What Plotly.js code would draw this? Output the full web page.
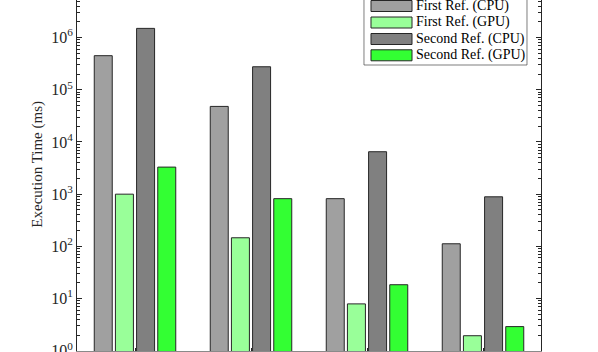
<!DOCTYPE html>
<html>
<head>
<meta charset="utf-8">
<script src="https://cdn.plot.ly/plotly-3.0.1.min.js"></script>
<style>
  body { margin: 0; background: #fff; }
  #plot { width: 598px; height: 352px; }
</style>
</head>
<body>
<div id="plot"></div>
<script>
// data (log scale, ms)
var groups = [1, 2, 3, 4];
var seriesNames = ["First Ref. (CPU)", "First Ref. (GPU)", "Second Ref. (CPU)", "Second Ref. (GPU)"];
var seriesColors = ["#a0a0a0", "#99ff99", "#808080", "#33ff33"];
var firstCpu = [450000, 48000, 820, 112];
var firstGpu = [1000, 146, 7.9, 1.94];
var secondCpu = [1500000, 276000, 6500, 890];
var secondGpu = [3300, 820, 18.4, 2.9];
var yExponents = [0, 1, 2, 3, 4, 5, 6];
var yLabel = 'Execution Time (ms)';

var seriesValues = [firstCpu, firstGpu, secondCpu, secondGpu];

var data = seriesValues.map(function (vals, i) {
  return {
    x: groups,
    y: vals,
    type: 'bar',
    name: seriesNames[i],
    showlegend: false,
    marker: { color: seriesColors[i], line: { color: '#262626', width: 1 } },
    hoverinfo: 'y'
  };
});

// hand-drawn legend (MATLAB style wide patches)
var shapes = [{
  type: 'rect', xref: 'paper', yref: 'paper',
  x0: 0.6185, x1: 0.9698, y0: 0.8148, y1: 1.02,
  line: { color: '#262626', width: 0.6 }, fillcolor: '#ffffff', layer: 'above'
}];
var annotations = [];
var rowY = [6, 22.5, 39, 55.3];
seriesNames.forEach(function (nm, i) {
  var cy = 1 - rowY[i] / 351;
  shapes.push({
    type: 'rect', xref: 'paper', yref: 'paper',
    x0: 0.6336, x1: 0.722, y0: cy - 5.5 / 351, y1: cy + 5.5 / 351,
    line: { color: '#262626', width: 1 }, fillcolor: seriesColors[i], layer: 'above'
  });
  annotations.push({
    xref: 'paper', yref: 'paper', x: 0.7265, y: cy,
    xanchor: 'left', yanchor: 'middle', showarrow: false,
    text: nm, font: { size: 14, color: '#000' }
  });
});

// y-axis title placed like the MATLAB one (plot top is cropped in the reference)
annotations.push({
  xref: 'paper', yref: 'paper', x: -0.084, y: 0.531,
  xanchor: 'center', yanchor: 'middle', showarrow: false, textangle: -90,
  text: yLabel, font: { size: 15, color: '#262626' }
});

var layout = {
  width: 598, height: 352,
  margin: { l: 77, r: 57, t: 0, b: 1 },
  font: { family: 'Liberation Serif, DejaVu Serif, serif', color: '#262626' },
  paper_bgcolor: '#fff', plot_bgcolor: '#fff',
  barmode: 'group', bargap: 0.27, bargroupgap: 0.15,
  xaxis: {
    range: [0.5, 4.5], tickvals: groups, showticklabels: false,
    ticks: 'inside', ticklen: 3, tickcolor: '#262626',
    showline: true, linecolor: '#8a8a8a', linewidth: 2,
    showgrid: false, zeroline: false, automargin: false
  },
  yaxis: {
    type: 'log', range: [-0.005, 6.72],
    tickvals: yExponents.map(function (e) { return Math.pow(10, e); }),
    ticktext: yExponents.map(function (e) { return '10<sup>' + e + '</sup>'; }),
    tickfont: { size: 16, color: '#262626' },
    ticklabeloverflow: 'allow',
    ticks: 'inside', ticklen: 5, tickcolor: '#262626',
    minor: { ticks: 'inside', ticklen: 3, dtick: 'D1', tickcolor: '#262626', showgrid: false },
    showline: true, linecolor: '#262626', linewidth: 1, mirror: 'ticks',
    showgrid: false, zeroline: false, automargin: false
  },
  shapes: shapes,
  annotations: annotations
};

Plotly.newPlot('plot', data, layout, { displayModeBar: false, staticPlot: true });
</script>
</body>
</html>
